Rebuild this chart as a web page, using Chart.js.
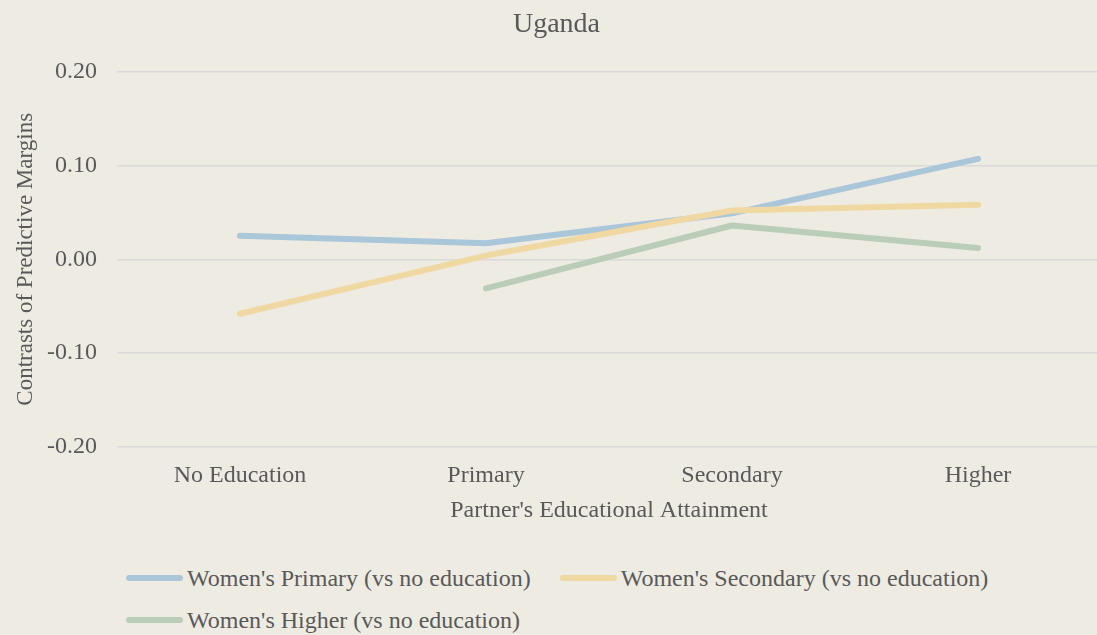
<!DOCTYPE html>
<html>
<head>
<meta charset="utf-8">
<script src="https://cdn.jsdelivr.net/npm/chart.js@4"></script>
<style>
    body { margin: 0; background: #EEEBE3; overflow: hidden; width: 1097px; height: 635px; position: relative; }
    #wrap { position: absolute; left: 0; top: 0; width: 1101px; height: 525px; }
    #legend { position: absolute; left: 126px; top: 564px; width: 900px; display: flex; flex-wrap: wrap; column-gap: 29px; row-gap: 14px;
        font-family: "Liberation Serif", "Times New Roman", serif; font-size: 24px; color: #595959; line-height: 28px; }
    .item { display: flex; align-items: center; }
    .swatch { width: 57px; height: 6px; border-radius: 3px; margin-right: 4px; }
</style>
</head>
<body>
<div id="wrap"><canvas id="chart"></canvas></div>
<div id="legend"></div>
<script>
const FONT = "'Liberation Serif', 'Times New Roman', serif";
const TEXT = "#595959";

const categories = ["No Education", "Primary", "Secondary", "Higher"];
const seriesNames = [
    "Women's Primary (vs no education)",
    "Women's Secondary (vs no education)",
    "Women's Higher (vs no education)"
];
const womenPrimary = [0.025, 0.017, 0.049, 0.107];
const womenSecondary = [-0.058, 0.004, 0.052, 0.058];
const womenHigher = [null, -0.031, 0.036, 0.012];
const seriesColors = ["#AAC6D9", "#F0D8A2", "#BACDB9"];
const yTicks = [-0.2, -0.1, 0, 0.1, 0.2];

function l(element) {
    return document.getElementById(element);
}

function makeDataset(i, values) {
    return {
        label: seriesNames[i],
        data: values,
        borderColor: seriesColors[i],
        backgroundColor: seriesColors[i],
        borderWidth: 6,
        borderCapStyle: "round",
        borderJoinStyle: "round",
        pointRadius: 0,
        pointHoverRadius: 0,
        tension: 0,
        fill: false,
        order: 3 - i
    };
}

const datasets = [
    makeDataset(0, womenPrimary),
    makeDataset(1, womenSecondary),
    makeDataset(2, womenHigher)
];

new Chart(l("chart"), {
    type: "line",
    data: {labels: categories, datasets: datasets},
    options: {
        responsive: true,
        maintainAspectRatio: false,
        animation: false,
        layout: {padding: {left: 12, right: 0, top: 0, bottom: 0}},
        plugins: {
            legend: {display: false},
            tooltip: {enabled: false},
            title: {
                display: true,
                text: "Uganda",
                color: TEXT,
                font: {family: FONT, size: 28, weight: "normal"},
                padding: {top: 8, bottom: 30}
            }
        },
        scales: {
            x: {
                offset: true,
                grid: {display: false, drawTicks: false, offset: true},
                border: {display: false},
                ticks: {color: TEXT, font: {family: FONT, size: 24}, padding: 14, maxRotation: 0},
                title: {display: true, text: "Partner's Educational Attainment", color: TEXT,
                    font: {family: FONT, size: 24}, padding: 0},
                afterFit: function (scale) { scale.height = 78; }
            },
            y: {
                min: -0.2,
                max: 0.2,
                afterBuildTicks: function (scale) {
                    scale.ticks = yTicks.map(v => ({value: v}));
                },
                grid: {color: "#D9D9D9", lineWidth: 1.5, drawTicks: false},
                border: {display: false},
                ticks: {color: TEXT, font: {family: FONT, size: 24}, padding: 20,
                    callback: v => v.toFixed(2)},
                title: {display: true, text: "Contrasts of Predictive Margins", color: TEXT,
                    font: {family: FONT, size: 23}, padding: 0},
                afterFit: function (scale) { scale.width = 105; }
            }
        }
    }
});

let legendHtml = "";
for (let i = 0; i < seriesNames.length; i++) {
    legendHtml += "<div class='item'><div class='swatch' style='background:" + seriesColors[i] + "'></div>" +
        "<span>" + seriesNames[i] + "</span></div>";
}
l("legend").innerHTML = legendHtml;
</script>
</body>
</html>
